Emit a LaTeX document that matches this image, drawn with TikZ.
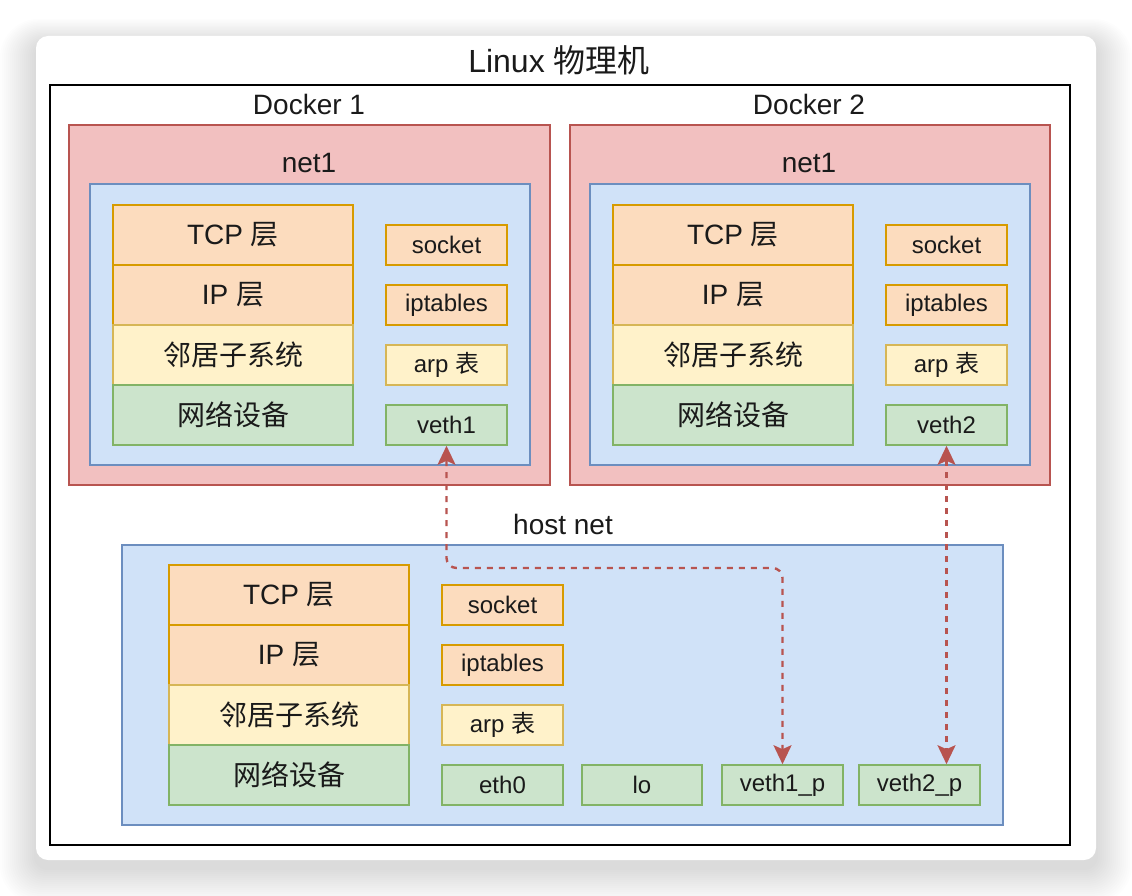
\documentclass[tikz,border=0pt]{standalone}
\usepackage{fontspec}
\setmainfont{Liberation Sans}
\newfontfamily\cjk{Noto Sans CJK SC}
\usetikzlibrary{arrows.meta}
\definecolor{redfill}{RGB}{242,192,192}
\definecolor{redline}{RGB}{184,84,80}
\definecolor{bluefill}{RGB}{208,226,248}
\definecolor{blueline}{RGB}{108,142,191}
\definecolor{orgfill}{RGB}{252,220,190}
\definecolor{orgline}{RGB}{215,155,0}
\definecolor{yelfill}{RGB}{255,242,202}
\definecolor{yelline}{RGB}{214,182,86}
\definecolor{grnfill}{RGB}{204,228,204}
\definecolor{grnline}{RGB}{130,179,102}
\definecolor{txt}{RGB}{26,26,26}
\tikzset{
  lbl/.style={text=txt, font=\fontsize{28}{32}\selectfont, inner sep=0pt},
  region/.style={draw, line width=1.6pt, inner sep=0pt},
  dockerbox/.style={region, draw=redline, fill=redfill, minimum width=481pt, minimum height=360pt},
  netbox/.style={region, draw=blueline, fill=bluefill, minimum width=440pt, minimum height=281pt},
  layer/.style={draw, line width=1.6pt, inner sep=0pt, text=txt, minimum width=240pt, minimum height=60pt, font=\fontsize{28}{32}\selectfont},
  small/.style={draw, line width=1.6pt, inner sep=0pt, text=txt, minimum width=121pt, minimum height=40pt, font=\fontsize{24}{28}\selectfont},
  orange/.style={draw=orgline, fill=orgfill},
  yellow/.style={draw=yelline, fill=yelfill},
  green/.style={draw=grnline, fill=grnfill},
  link/.style={draw=redline, line width=2.4pt, dash pattern=on 6pt off 6pt,
    {Stealth[length=19pt,width=18pt,inset=4pt,fill=redline]}-{Stealth[length=19pt,width=18pt,inset=4pt,fill=redline]}},
}
\begin{document}
\begin{tikzpicture}[x=1pt,y=-1pt]
\useasboundingbox (0,0) rectangle (1132,896);
\fill[white] (0,0) rectangle (1132,896);
% shadow of the card
\foreach \i in {1,...,18}{
  \fill[black, opacity=0.009, rounded corners=12pt+\i*1.5pt]
    (36-\i*2,36-\i*1.4+8) rectangle (1096+\i*2,860+\i*2+8);
}
\fill[white, rounded corners=12pt] (36,36) rectangle (1096,860);
% outer frame
\node[draw=black, line width=2pt, minimum width=1020pt, minimum height=760pt, inner sep=0pt] (outer) at (560,465) {};
\node[lbl, font=\fontsize{32}{36}\selectfont] (title) at (559,60) {Linux {\cjk 物理机}};

% Docker 1
\node[lbl] (d1lbl) at (309,104) {Docker 1};
\node[dockerbox] (d1) at (309.5,305) {};
\node[lbl] (n1lbl) at (309,163) {net1};
\node[netbox] (n1) at (310,324.5) {};
\node[layer, orange] (d1tcp) at (233,235) {TCP {\cjk 层}};
\node[layer, orange] (d1ip) at (233,295) {IP {\cjk 层}};
\node[layer, yellow] (d1nb) at (233,355) {\cjk 邻居子系统};
\node[layer, green] (d1dev) at (233,415) {\cjk 网络设备};
\node[small, orange] (d1sock) at (446.5,245) {socket};
\node[small, orange] (d1ipt) at (446.5,305) {iptables};
\node[small, yellow] (d1arp) at (446.5,365) {arp {\cjk 表}};
\node[small, green] (v1) at (446.5,425) {veth1};

% Docker 2
\node[lbl] (d2lbl) at (809,104) {Docker 2};
\node[dockerbox, minimum width=480pt] (d2) at (810,305) {};
\node[lbl] (n2lbl) at (809,163) {net1};
\node[netbox] (n2) at (810,324.5) {};
\node[layer, orange] (d2tcp) at (733,235) {TCP {\cjk 层}};
\node[layer, orange] (d2ip) at (733,295) {IP {\cjk 层}};
\node[layer, yellow] (d2nb) at (733,355) {\cjk 邻居子系统};
\node[layer, green] (d2dev) at (733,415) {\cjk 网络设备};
\node[small, orange] (d2sock) at (946.5,245) {socket};
\node[small, orange] (d2ipt) at (946.5,305) {iptables};
\node[small, yellow] (d2arp) at (946.5,365) {arp {\cjk 表}};
\node[small, green] (v2) at (946.5,425) {veth2};

% host net
\node[lbl] (hlbl) at (563,524) {host net};
\node[region, draw=blueline, fill=bluefill, minimum width=881pt, minimum height=280pt] (hn) at (562.5,685) {};
\node[layer, orange] (htcp) at (289,595) {TCP {\cjk 层}};
\node[layer, orange] (hip) at (289,655) {IP {\cjk 层}};
\node[layer, yellow] (hnb) at (289,715) {\cjk 邻居子系统};
\node[layer, green] (hdev) at (289,775) {\cjk 网络设备};
\node[small, orange] (hsock) at (502.5,605) {socket};
\node[small, orange] (hipt) at (502.5,665) {iptables};
\node[small, yellow] (harp) at (502.5,725) {arp {\cjk 表}};
\node[small, green] (eth0) at (502.5,785) {eth0};
\node[small, green, minimum width=120pt] (lo) at (642,785) {lo};
\node[small, green] (v1p) at (782.5,785) {veth1\_p};
\node[small, green] (v2p) at (919.5,785) {veth2\_p};

% links
\coordinate (bend) at (782.5,568);
\draw[link, rounded corners=10pt] (v1.south) |- (bend) -- (v1p.north);
\draw[link] (v2.south) -- (v2.south |- v2p.north);
\end{tikzpicture}
\end{document}
